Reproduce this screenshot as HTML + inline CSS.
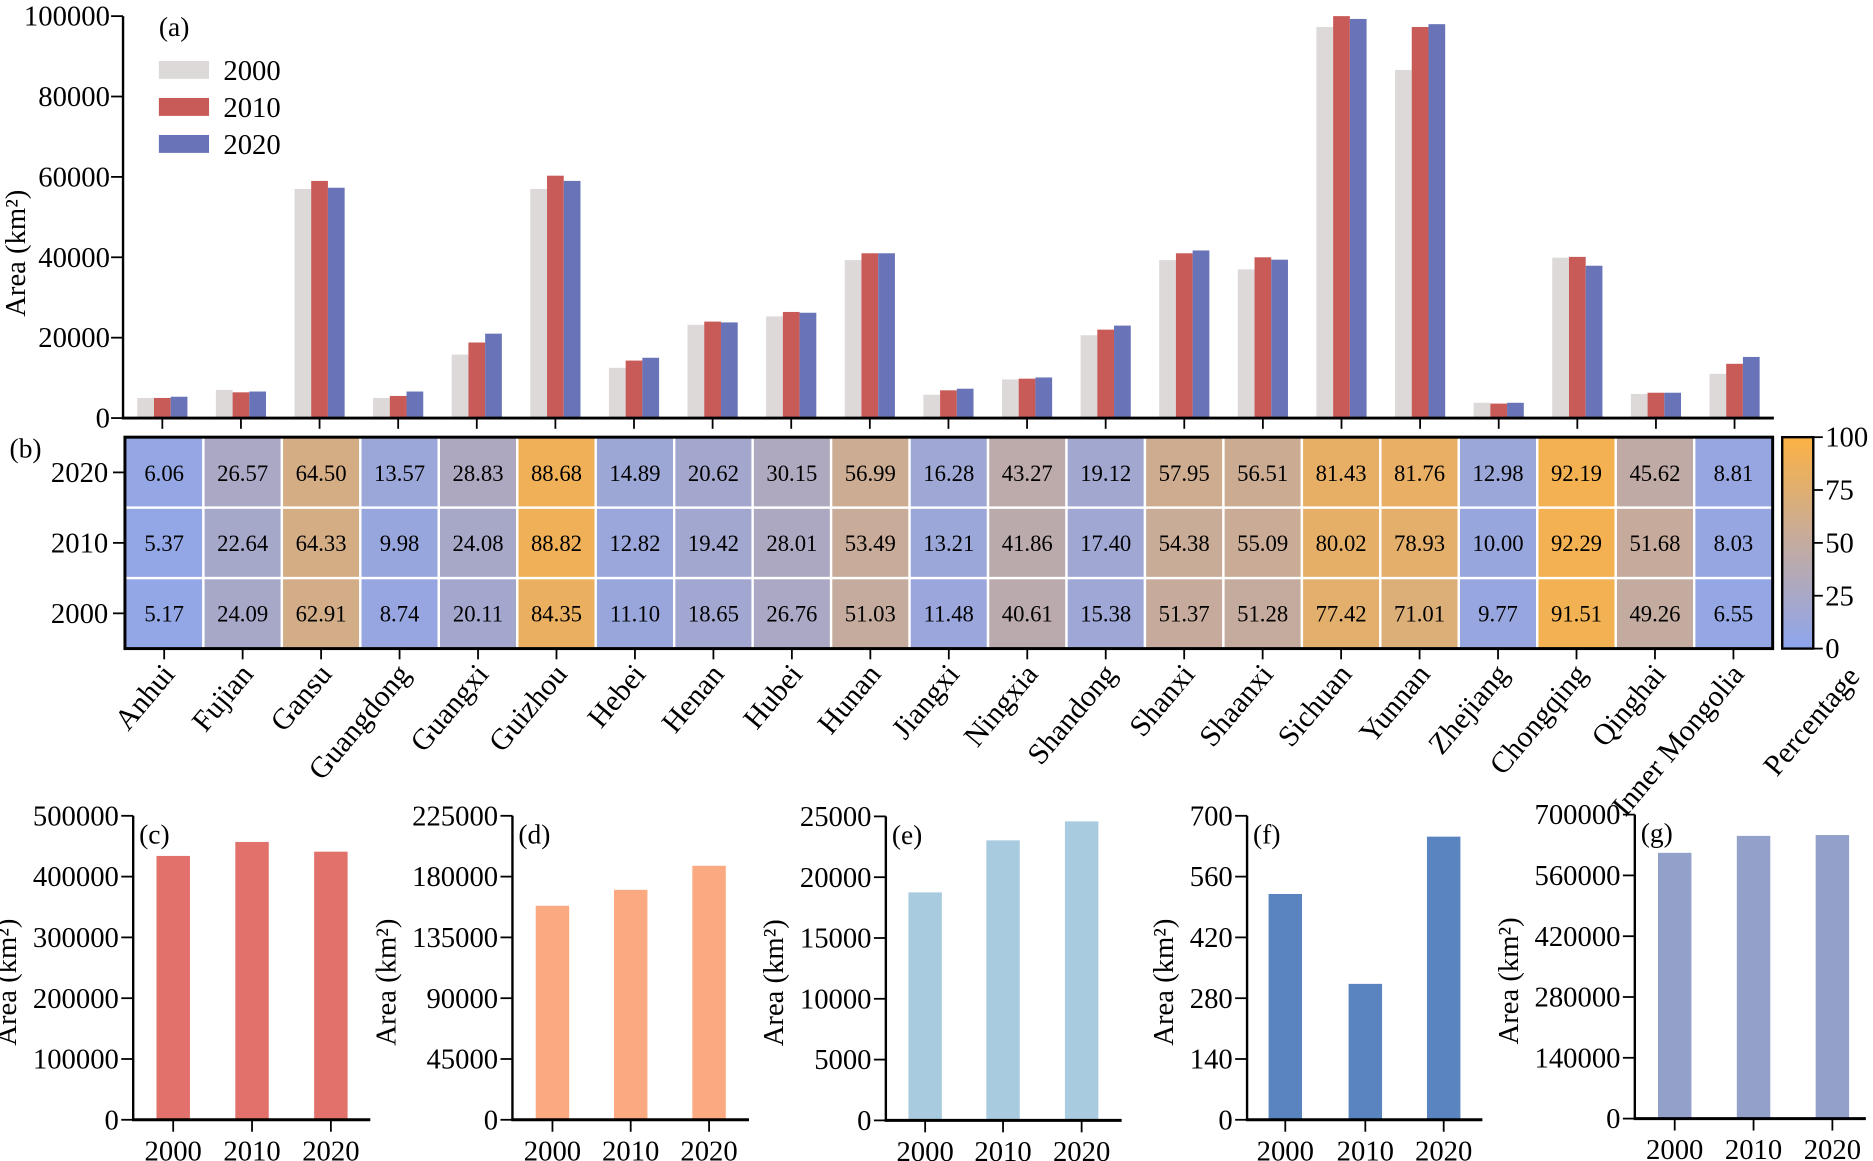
<!DOCTYPE html>
<html><head><meta charset="utf-8"><style>
html,body{margin:0;padding:0;background:#fff;}
svg{display:block;font-family:"Liberation Serif",serif;}
</style></head><body>
<svg id="fig" width="1873" height="1161" viewBox="0 0 1568 972" preserveAspectRatio="none" xmlns="http://www.w3.org/2000/svg">
<defs><linearGradient id="cbg" x1="0" y1="1" x2="0" y2="0">
<stop offset="0" stop-color="#8da5ee"/><stop offset="0.5" stop-color="#c4ab9f"/><stop offset="1" stop-color="#fcb243"/>
</linearGradient></defs>
</svg>
<script>
const provinces=["Anhui","Fujian","Gansu","Guangdong","Guangxi","Guizhou","Hebei","Henan","Hubei","Hunan","Jiangxi","Ningxia","Shandong","Shanxi","Shaanxi","Sichuan","Yunnan","Zhejiang","Chongqing","Qinghai","Inner Mongolia"];
const area2000=[5000,7000,57000,5000,15800,57000,12500,23200,25300,39300,5800,9600,20600,39300,37000,97300,86600,3800,39900,6000,11000];
const area2010=[5000,6400,59000,5500,18800,60300,14300,24000,26400,41000,6900,9800,22000,41000,40000,100000,97300,3600,40100,6300,13500];
const area2020=[5300,6600,57300,6600,21000,59000,15000,23800,26200,41000,7300,10100,23000,41700,39400,99300,98000,3800,37900,6300,15200];
const yearsA=["2000","2010","2020"];
const ticksA=[0,20000,40000,60000,80000,100000];
const pct2020=[6.06,26.57,64.50,13.57,28.83,88.68,14.89,20.62,30.15,56.99,16.28,43.27,19.12,57.95,56.51,81.43,81.76,12.98,92.19,45.62,8.81];
const pct2010=[5.37,22.64,64.33,9.98,24.08,88.82,12.82,19.42,28.01,53.49,13.21,41.86,17.40,54.38,55.09,80.02,78.93,10.00,92.29,51.68,8.03];
const pct2000=[5.17,24.09,62.91,8.74,20.11,84.35,11.10,18.65,26.76,51.03,11.48,40.61,15.38,51.37,51.28,77.42,71.01,9.77,91.51,49.26,6.55];
const cbTicks=[0,25,50,75,100];
const yearsSmall=["2000","2010","2020"];
const valC=[434000,457000,441000];
const valD=[158400,170200,188000];
const valE=[18750,23030,24590];
const valF=[520,313,652];
const valG=[612000,651000,653000];
const ticksC=[0,100000,200000,300000,400000,500000];
const ticksD=[0,45000,90000,135000,180000,225000];
const ticksE=[0,5000,10000,15000,20000,25000];
const ticksF=[0,140,280,420,560,700];
const ticksG=[0,140000,280000,420000,560000,700000];

const svg=document.getElementById('fig');
const NS="http://www.w3.org/2000/svg";
function mk(tag,attrs,parent,text){const e=document.createElementNS(NS,tag);for(const k in attrs)e.setAttribute(k,attrs[k]);if(text!==undefined)e.textContent=text;(parent||svg).appendChild(e);return e;}

// ---------- Panel a ----------
const gA=mk('g',{});


const ax0=103,ax1=1485,ay0=350,ay1=13.5,aMax=100000;
const xA=i=>ax0+(ax1-ax0)/provinces.length*(i+0.5);
const yA=v=>ay0-(ay0-ay1)*v/aMax;
const serA=[area2000,area2010,area2020],colA=["#ddd9d9","#c85a58","#6874b7"];
const bw=14;
serA.forEach((s,k)=>s.forEach((v,i)=>{
  const r=mk('rect',{x:xA(i)-1.5*bw+k*bw,y:yA(v),width:bw,height:ay0-yA(v),fill:colA[k]},gA);
  
  
}));
mk('line',{x1:ax0,y1:ay0,x2:ax0,y2:ay1,stroke:'#000','stroke-width':2},gA);
mk('line',{x1:ax0-1,y1:ay0,x2:ax1,y2:ay0,stroke:'#000','stroke-width':2.5},gA);
ticksA.forEach(t=>{
  mk('line',{x1:ax0-10,y1:yA(t),x2:ax0,y2:yA(t),stroke:'#000','stroke-width':1.5},gA);
  const tx=mk('text',{x:ax0-11,y:yA(t)+8,'font-size':24,'text-anchor':'end'},gA,String(t));
  
  
});
provinces.forEach((p,i)=>mk('line',{x1:xA(i),y1:ay0,x2:xA(i),y2:ay0+9,stroke:'#000','stroke-width':1.5},gA));
const ytA=mk('text',{transform:'translate(21,212) rotate(-90)','font-size':24,'text-anchor':'middle'},gA,'Area (km²)');


mk('text',{x:133,y:30,'font-size':23},gA,'(a)');
yearsA.forEach((y,k)=>{
  const lg=mk('g',{},gA);
  
  
  mk('rect',{x:133,y:51+k*31,width:42,height:15,fill:colA[k]},lg);
  mk('text',{x:187,y:67+k*31,'font-size':24},lg,y);
});

// ---------- Panel b heatmap ----------
const gB=mk('g',{});


const hx0=104.6,hx1=1484,hy0=366,hy1=543;
const cw=(hx1-hx0)/provinces.length,ch=(hy1-hy0)/3;
function lerp(a,b,t){return Math.round(a+(b-a)*t);}
function cmap(v){const c0=[0x8d,0xa5,0xee],c1=[0xc4,0xab,0x9f],c2=[0xfc,0xb2,0x43];
 let a,b,t;if(v<50){a=c0;b=c1;t=v/50;}else{a=c1;b=c2;t=(v-50)/50;}
 return `rgb(${lerp(a[0],b[0],t)},${lerp(a[1],b[1],t)},${lerp(a[2],b[2],t)})`;}
const rows=[pct2020,pct2010,pct2000],rowLab=["2020","2010","2000"];
rows.forEach((row,r)=>row.forEach((v,i)=>{
  const cell=mk('rect',{x:hx0+i*cw,y:hy0+r*ch,width:cw,height:ch,fill:cmap(v),stroke:'#fff','stroke-width':2},gB);
  
  
  mk('text',{x:hx0+(i+0.5)*cw,y:hy0+(r+0.5)*ch+7,'font-size':19,'text-anchor':'middle'},gB,v.toFixed(2));
}));
mk('rect',{x:hx0,y:hy0,width:hx1-hx0,height:hy1-hy0,fill:'none',stroke:'#000','stroke-width':2.5},gB);
rowLab.forEach((l,r)=>{
  const cy=hy0+(r+0.5)*ch;
  mk('line',{x1:hx0-10,y1:cy,x2:hx0,y2:cy,stroke:'#000','stroke-width':1.5},gB);
  mk('text',{x:hx0-14,y:cy+8,'font-size':24,'text-anchor':'end'},gB,l);
});
mk('text',{x:8,y:383,'font-size':23},gB,'(b)');
provinces.forEach((p,i)=>{
  const cx=hx0+(i+0.5)*cw;
  mk('line',{x1:cx,y1:hy1,x2:cx,y2:hy1+9,stroke:'#000','stroke-width':1.5},gB);
  const t=mk('text',{transform:`translate(${cx+10},${hy1+22}) rotate(-50)`,'font-size':25,'text-anchor':'end'},gB,p);
  
  
});
// colorbar
const cbx=1492,cbw=26;
const cb=mk('rect',{x:cbx,y:hy0,width:cbw,height:hy1-hy0,fill:'url(#cbg)',stroke:'#000','stroke-width':2},gB);


cbTicks.forEach(t=>{
  const y=hy1-(hy1-hy0)*t/100;
  mk('line',{x1:cbx+cbw,y1:y,x2:cbx+cbw+8,y2:y,stroke:'#000','stroke-width':1.5},gB);
  mk('text',{x:cbx+cbw+10,y:y+8,'font-size':24},gB,String(t));
});
const pl=mk('text',{transform:`translate(1558,${hy1+24}) rotate(-50)`,'font-size':25,'text-anchor':'end'},gB,'Percentage');



// ---------- small panels ----------
function small(name,label,axX,endX,centers,vals,ticks,color,top,bot){
  const g=mk('g',{});
  
  
  const max=ticks[ticks.length-1];
  const y=v=>bot-(bot-top)*v/max;
  vals.forEach((v,i)=>{
    const r=mk('rect',{x:centers[i]-14,y:y(v),width:28,height:bot-y(v),fill:color},g);
    
    
  });
  mk('line',{x1:axX,y1:bot,x2:axX,y2:top,stroke:'#000','stroke-width':2},g);
  mk('line',{x1:axX-1,y1:bot,x2:endX,y2:bot,stroke:'#000','stroke-width':2.5},g);
  ticks.forEach(t=>{
    mk('line',{x1:axX-10,y1:y(t),x2:axX,y2:y(t),stroke:'#000','stroke-width':1.5},g);
    mk('text',{x:axX-12,y:y(t)+8,'font-size':24,'text-anchor':'end'},g,String(t));
  });
  yearsSmall.forEach((yr,i)=>{
    mk('line',{x1:centers[i],y1:bot,x2:centers[i],y2:bot+10,stroke:'#000','stroke-width':1.5},g);
    mk('text',{x:centers[i],y:bot+34,'font-size':24,'text-anchor':'middle'},g,yr);
  });
  const lenTick=String(max).length;
  const tx=mk('text',{transform:`translate(${axX-12-lenTick*12-14},${(top+bot)/2+12}) rotate(-90)`,'font-size':24,'text-anchor':'middle'},g,'Area (km²)');
  
  
  mk('text',{x:axX+5,y:top+23,'font-size':23},g,label);
}
small('panel-c','(c)',111.5,310,[145,211,277],valC,ticksC,'#e2706b',683,937.5);
small('panel-d','(d)',429,627,[462.5,528,593.6],valD,ticksD,'#fba981',683,937.5);
small('panel-e','(e)',741.6,939,[774.5,839.7,905.5],valE,ticksE,'#a9cbe0',683.5,938);
small('panel-f','(f)',1044,1241,[1076,1143,1208.6],valF,ticksF,'#5a84c0',683,937.5);
small('panel-g','(g)',1368.6,1562,[1402,1468,1534],valG,ticksG,'#93a0c9',682,936.5);
</script>
</body></html>
